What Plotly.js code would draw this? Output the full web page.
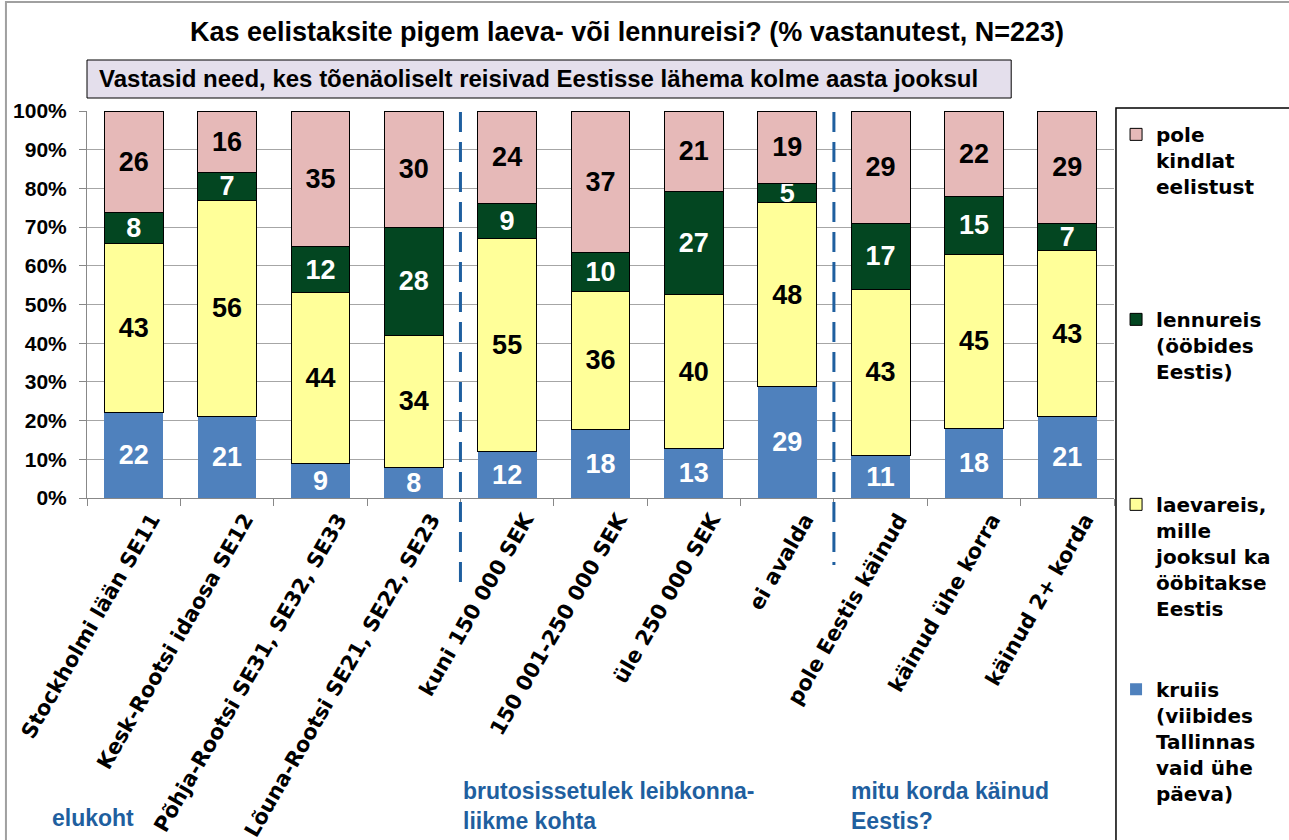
<!DOCTYPE html>
<html>
<head>
<meta charset="utf-8">
<script src="https://cdn.plot.ly/plotly-3.0.1.min.js"></script>
<style>html,body{margin:0;padding:0;background:#fff}#chart{width:1289px;height:840px}</style>
</head>
<body>
<div id="chart"></div>
<script>
const categories = ["Stockholmi lään SE11", "Kesk-Rootsi idaosa SE12", "Põhja-Rootsi SE31, SE32, SE33", "Lõuna-Rootsi SE21, SE22, SE23", "kuni 150 000 SEK", "150 001-250 000 SEK", "üle 250 000 SEK", "ei avalda", "pole Eestis käinud", "käinud ühe korra", "käinud 2+ korda"];
const kruiis = [22, 21, 9, 8, 12, 18, 13, 29, 11, 18, 21];
const laevareis = [43, 56, 44, 34, 55, 36, 40, 48, 43, 45, 43];
const lennureis = [8, 7, 12, 28, 9, 10, 27, 5, 17, 15, 7];
const poleKindlat = [26, 16, 35, 30, 24, 37, 21, 19, 29, 22, 29];
const seriesNames = [
  "kruiis<br>(viibides<br>Tallinnas<br>vaid ühe<br>päeva)",
  "laevareis,<br>mille<br>jooksul ka<br>ööbitakse<br>Eestis<br> <br> ",
  "lennureis<br>(ööbides<br>Eestis)<br> <br> <br> <br> ",
  "pole<br>kindlat<br>eelistust<br> <br> <br> <br> "
];
const yTickVals = [0, 10, 20, 30, 40, 50, 60, 70, 80, 90, 100];
const yTickText = ["0%", "10%", "20%", "30%", "40%", "50%", "60%", "70%", "80%", "90%", "100%"];
const groupLabels = ["elukoht", "brutosissetulek leibkonna-<br>liikme kohta", "mitu korda käinud<br>Eestis?"];
const titleText = "Kas eelistaksite pigem laeva- või lennureisi? (% vastanutest, N=223)";
const subtitleText = "Vastasid need, kes tõenäoliselt reisivad Eestisse lähema kolme aasta jooksul";

const labelFont = "Liberation Sans, Arial, sans-serif";
const wideFont = "DejaVu Sans, Verdana, sans-serif";
function mk(vals, name, color, txtColor, lineColor, lw) {
  return {
    type: "bar", x: categories, y: vals, name: name,
    marker: {color: color, line: {color: lineColor, width: lw}},
    text: vals.map(String), textposition: "inside", insidetextanchor: "middle", textangle: 0,
    constraintext: "none",
    textfont: {family: labelFont, size: 27, color: txtColor, weight: "bold"},
    hoverinfo: "skip"
  };
}
const data = [
  mk(kruiis, seriesNames[0], "#4f81bd", "#ffffff", "#4f81bd", 0),
  mk(laevareis, seriesNames[1], "#ffff99", "#000000", "#000000", 1),
  mk(lennureis, seriesNames[2], "#034621", "#ffffff", "#000000", 1),
  mk(poleKindlat, seriesNames[3], "#e6b9b8", "#000000", "#000000", 1)
];

const L = 87, R = 1126, T = 111, B = 498;
const W = R - L, H = B - T;
const px = v => (v - L) / W;
const py = v => (B - v) / H;

const blue = "#1f5f9f";
const layout = {
  width: 1289, height: 840,
  margin: {l: L, r: 1289 - R, t: T, b: 840 - B},
  paper_bgcolor: "#ffffff", plot_bgcolor: "#ffffff",
  barmode: "stack", barnorm: "percent", bargap: 0.37,
  title: {text: titleText, x: 627 / 1289, xanchor: "center", y: 1 - 32 / 840, yanchor: "middle", yref: "container",
          font: {family: labelFont, size: 27, color: "#000", weight: "bold"}},
  xaxis: {type: "category", tickangle: -60, ticks: "outside", tickson: "boundaries", ticklen: 7, tickcolor: "#888",
          ticklabelshift: 18,
          showline: true, linecolor: "#888", linewidth: 1, showgrid: false,
          tickfont: {family: wideFont, size: 21, color: "#000", weight: "bold"}},
  yaxis: {range: [0, 100], tickvals: yTickVals, ticktext: yTickText, ticks: "outside", ticklen: 7, tickcolor: "#888",
          ticklabelstandoff: 8,
          showline: true, linecolor: "#888", linewidth: 1, showgrid: true, gridcolor: "#a6a6a6", gridwidth: 1,
          zeroline: false, tickfont: {family: labelFont, size: 21, color: "#000", weight: "bold"}},
  legend: {x: 1.002, xanchor: "left", y: 0.99, yanchor: "top", orientation: "v", traceorder: "reversed",
           valign: "top", borderwidth: 0, bgcolor: "rgba(0,0,0,0)", maxheight: 760,
           font: {family: wideFont, size: 20, color: "#000", weight: "bold"}},
  shapes: [
    {type: "rect", xref: "paper", yref: "paper", x0: px(5), x1: px(1400), y0: py(2), y1: py(900),
     line: {color: "#a0a0a0", width: 2}, fillcolor: "rgba(0,0,0,0)", layer: "below"},
    {type: "rect", xref: "paper", yref: "paper", x0: px(1128), x1: px(1400), y0: py(108), y1: py(900),
     line: {color: "#000", width: 1.5}, fillcolor: "rgba(0,0,0,0)"},
    {type: "rect", xref: "paper", yref: "paper", x0: px(87), x1: px(1022), y0: py(98), y1: py(60),
     line: {color: "#000", width: 1}, fillcolor: "#e4dfec"},
    {type: "line", xref: "x", yref: "paper", x0: 3.5, x1: 3.5, y0: py(112), y1: py(590),
     line: {color: blue, width: 3, dash: "20px,10px"}},
    {type: "line", xref: "x", yref: "paper", x0: 7.5, x1: 7.5, y0: py(112), y1: py(565),
     line: {color: blue, width: 3, dash: "20px,10px"}}
  ],
  annotations: [
    {xref: "paper", yref: "paper", x: px(97), y: py(79), xanchor: "left", yanchor: "middle", showarrow: false,
     text: subtitleText, font: {family: labelFont, size: 24, color: "#000", weight: "bold"}},
    {xref: "paper", yref: "paper", x: px(50), y: py(818), xanchor: "left", yanchor: "middle", showarrow: false, align: "left",
     text: groupLabels[0], font: {family: labelFont, size: 23, color: blue, weight: "bold"}},
    {xref: "paper", yref: "paper", x: px(465), y: py(806), xanchor: "left", yanchor: "middle", showarrow: false, align: "left",
     text: groupLabels[1], font: {family: labelFont, size: 23, color: blue, weight: "bold"}},
    {xref: "paper", yref: "paper", x: px(858), y: py(806), xanchor: "left", yanchor: "middle", showarrow: false, align: "left",
     text: groupLabels[2], font: {family: labelFont, size: 23, color: blue, weight: "bold"}}
  ]
};
Plotly.newPlot("chart", data, layout, {displayModeBar: false, staticPlot: true});
</script>
</body>
</html>
